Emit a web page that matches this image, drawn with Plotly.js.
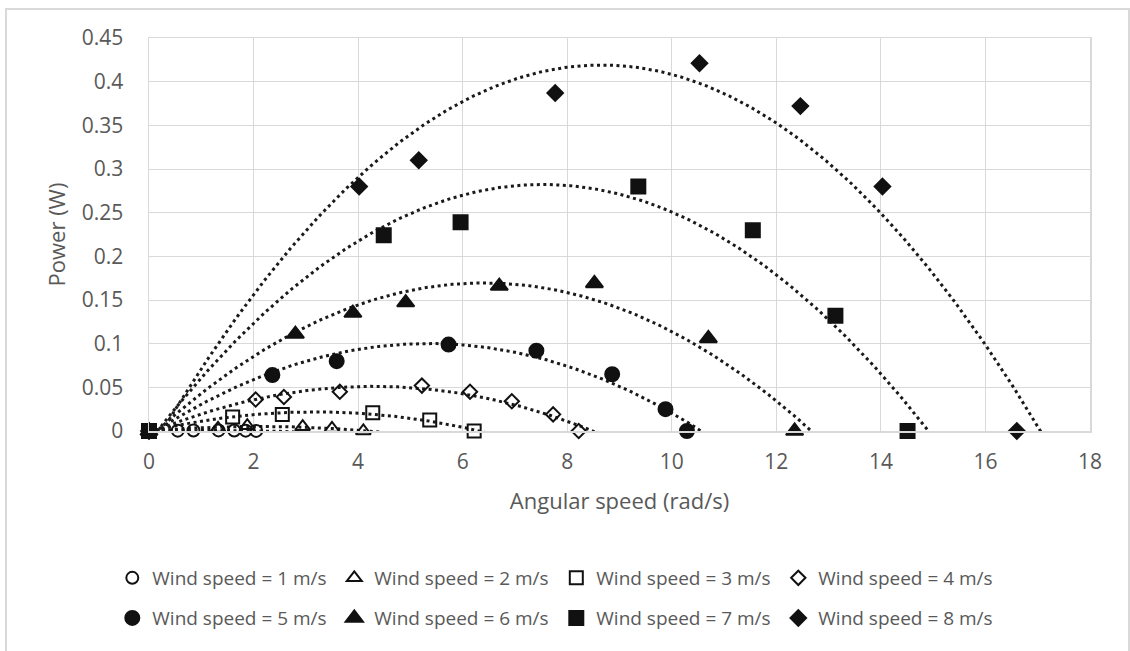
<!DOCTYPE html>
<html><head><meta charset="utf-8">
<script src="https://cdn.plot.ly/plotly-3.0.1.min.js"></script>
<style>html,body{margin:0;padding:0;background:#fff;} #chart{width:1130px;height:651px;}</style>
</head><body><div id="chart"></div>
<script>
const seriesNames = ['Wind speed = 1 m/s','Wind speed = 2 m/s','Wind speed = 3 m/s','Wind speed = 4 m/s',
                     'Wind speed = 5 m/s','Wind speed = 6 m/s','Wind speed = 7 m/s','Wind speed = 8 m/s'];
const x1 = [0, 0.55, 0.85, 1.33, 1.63, 1.85, 2.05];
const y1 = [0, 0.0004, 0.0006, 0.0007, 0.0006, 0.0004, 0.0001];
const x2 = [0, 1.32, 1.88, 2.94, 3.50, 4.10];
const y2 = [0, 0.003, 0.006, 0.005, 0.003, 0];
const x3 = [0, 1.60, 2.55, 4.28, 5.37, 6.22];
const y3 = [0, 0.016, 0.019, 0.021, 0.0125, 0];
const x4 = [0, 2.04, 2.58, 3.65, 5.22, 6.14, 6.94, 7.73, 8.22];
const y4 = [0, 0.036, 0.039, 0.045, 0.052, 0.045, 0.034, 0.019, 0];
const x5 = [0, 2.36, 3.59, 5.73, 7.41, 8.86, 9.88, 10.29];
const y5 = [0, 0.064, 0.080, 0.099, 0.092, 0.065, 0.025, 0];
const x6 = [0, 2.80, 3.90, 4.91, 6.70, 8.52, 10.70, 12.35];
const y6 = [0, 0.111, 0.135, 0.147, 0.166, 0.169, 0.106, 0];
const x7 = [0, 4.49, 5.96, 9.36, 11.55, 13.13, 14.51];
const y7 = [0, 0.224, 0.239, 0.280, 0.230, 0.132, 0];
const x8 = [0, 4.02, 5.16, 7.77, 10.53, 12.46, 14.03, 16.60];
const y8 = [0, 0.280, 0.310, 0.387, 0.421, 0.372, 0.280, 0];
const xTicks = [0,2,4,6,8,10,12,14,16,18];

const X = [x1,x2,x3,x4,x5,x6,x7,x8];
const Y = [y1,y2,y3,y4,y5,y6,y7,y8];
const symbols = ['circle-open','triangle-up-open','square-open','diamond-open','circle','triangle-up','square','diamond'];
const sizes = [12,13,13,11,14,15,14,12];

// Excel-style 2nd order polynomial trendline (least squares)
function polyfit2(xs, ys){
  let S=[0,0,0,0,0], T=[0,0,0];
  for(let i=0;i<xs.length;i++){
    let p=1;
    for(let k=0;k<5;k++){ S[k]+=p; if(k<3) T[k]+=ys[i]*p; p*=xs[i]; }
  }
  const M=[[S[0],S[1],S[2]],[S[1],S[2],S[3]],[S[2],S[3],S[4]]];
  const det=m=>m[0][0]*(m[1][1]*m[2][2]-m[1][2]*m[2][1])-m[0][1]*(m[1][0]*m[2][2]-m[1][2]*m[2][0])+m[0][2]*(m[1][0]*m[2][1]-m[1][1]*m[2][0]);
  const D=det(M); const c=[];
  for(let j=0;j<3;j++){ const A=M.map((r,i)=>r.map((v,k)=>k===j?T[i]:v)); c.push(det(A)/D); }
  return c; // c0 + c1 x + c2 x^2
}

const traces=[];
for(let s=0;s<8;s++){
  const c=polyfit2(X[s],Y[s]);
  const cx=[], cy=[];
  for(let k=0;k<=360;k++){ const xv=k*0.05; cx.push(xv); cy.push(c[0]+c[1]*xv+c[2]*xv*xv); }
  traces.push({x:cx,y:cy,mode:'lines',type:'scatter',showlegend:false,hoverinfo:'skip',
    line:{color:'#1a1a1a',width:3,dash:'3px,3.5px'}});
}
for(let s=0;s<8;s++){
  traces.push({x:X[s],y:Y[s],mode:'markers',type:'scatter',name:seriesNames[s],cliponaxis:false,
    legend: s<4 ? 'legend' : 'legend2',
    marker:{symbol:symbols[s],size:sizes[s],color:'#111',line:{color:'#111',width:2}}});
}

const legendCommon = {orientation:'h', xanchor:'left', yanchor:'middle', bgcolor:'rgba(0,0,0,0)',
  entrywidth:177, entrywidthmode:'pixels', itemwidth:30, font:{family:'Open Sans',size:19,color:'#595959'}};

const layout={
  width:1130,height:651,
  margin:{l:149,r:40,t:38,b:220},
  paper_bgcolor:'#fff',plot_bgcolor:'#fff',
  font:{family:'Open Sans',size:21,color:'#595959'},
  xaxis:{range:[0,18],tickvals:xTicks,showgrid:true,gridcolor:'#d9d9d9',gridwidth:1,zeroline:false,
    showline:true,linecolor:'#d9d9d9',linewidth:1.5,mirror:true,ticks:'',ticklabelstandoff:11,
    title:{text:'Angular speed (rad/s)',standoff:20,font:{size:22,color:'#595959'}}},
  yaxis:{range:[0,0.45],dtick:0.05,tick0:0,showgrid:true,gridcolor:'#d9d9d9',gridwidth:1,zeroline:false,
    showline:true,linecolor:'#d9d9d9',linewidth:1.5,mirror:true,ticks:'',ticklabelstandoff:20,
    title:{text:'Power (W)',standoff:10,font:{size:22,color:'#595959'}}},
  legend:Object.assign({x:-0.039,y:-0.374},legendCommon),
  legend2:Object.assign({x:-0.039,y:-0.476},legendCommon),
  shapes:[{type:'rect',xref:'paper',yref:'paper',x0:(6-149)/941,x1:(1129-149)/941,y0:(431-700)/393,y1:(431-9)/393,
    line:{color:'#d9d9d9',width:2},fillcolor:'rgba(0,0,0,0)',layer:'below'}]
};
Plotly.newPlot('chart',traces,layout,{displayModeBar:false,staticPlot:true});
</script></body></html>
